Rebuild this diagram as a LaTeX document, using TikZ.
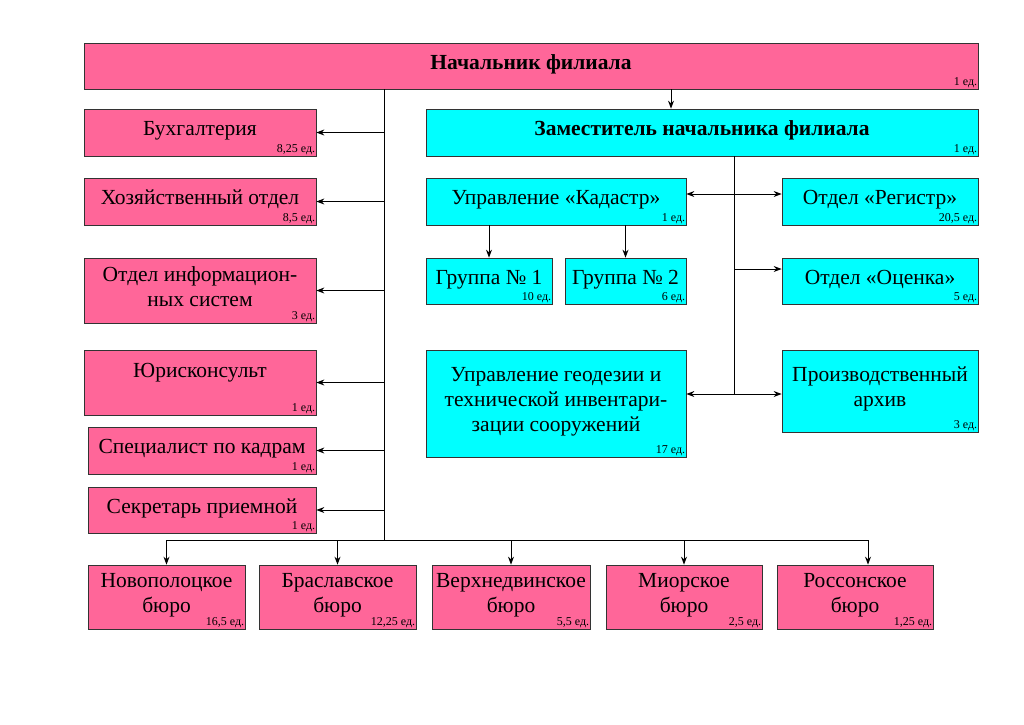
\documentclass[tikz,border=0pt]{standalone}
\usepackage{fontspec}
\setmainfont{Liberation Serif}
\usetikzlibrary{arrows.meta}
\definecolor{fillrose}{RGB}{255,102,153}
\definecolor{fillcyan}{RGB}{0,255,255}

\begin{document}
\begin{tikzpicture}[%
            x=1pt, y=-1pt,
            box/.style={draw=black!80, line width=0.7pt, align=center, inner sep=2pt,
                font=\fontsize{21.5}{25}\selectfont, text depth=8pt},
            pinkbox/.style={box, fill=fillrose},
            cyanbox/.style={box, fill=fillcyan},
            size/.style 2 args={minimum width=#1, minimum height=#2},
            units/.style={label={[anchor=south east, inner sep=1pt,
                font=\fontsize{12}{13}\selectfont]south east:{#1}}},
            link/.style={line width=1pt},
            arr/.style={link, -{Stealth[length=8pt,width=6pt]}},
            dblarr/.style={link, {Stealth[length=8pt,width=6pt]}-{Stealth[length=8pt,width=6pt]}}
    ]
        \useasboundingbox (0,0) rectangle (1024,724);

        % head and deputy
        \node [pinkbox, size={894}{46}, units={1 ед.}, font=\bfseries\fontsize{21.5}{25}\selectfont]
            (chief) at (531,66) {Начальник филиала};
        \node [cyanbox, size={552}{47}, units={1 ед.}, font=\bfseries\fontsize{21.5}{25}\selectfont]
            (deputy) at (702,132.5) {Заместитель начальника филиала};

        % left column
        \node [pinkbox, size={232}{47}, units={8,25 ед.}] (buh) at (200,132.5) {Бухгалтерия};
        \node [pinkbox, size={232}{47}, units={8,5 ед.}] (hoz) at (200,201.5) {Хозяйственный отдел};
        \node [pinkbox, size={232}{65}, units={3 ед.}] (infsys) at (200,290.5)
            {Отдел информацион-\\ных систем};
        \node [pinkbox, size={232}{65}, units={1 ед.}, text depth=24pt] (jur) at (200,382.5) {Юрисконсульт};
        \node [pinkbox, size={228}{47}, units={1 ед.}] (kadry) at (202,450.5) {Специалист по кадрам};
        \node [pinkbox, size={228}{46}, units={1 ед.}] (secr) at (202,510) {Секретарь приемной};

        % deputy's units
        \node [cyanbox, size={260}{47}, units={1 ед.}] (kadastr) at (556,201.5) {Управление «Кадастр»};
        \node [cyanbox, size={126}{46}, units={10 ед.}] (gr1) at (489,281) {Группа №~1};
        \node [cyanbox, size={121}{46}, units={6 ед.}] (gr2) at (625.5,281) {Группа №~2};
        \node [cyanbox, size={260}{107}, units={17 ед.}] (geod) at (556,403.5)
            {Управление геодезии и\\технической инвентари-\\зации сооружений};
        \node [cyanbox, size={196}{47}, units={20,5 ед.}] (registr) at (880,201.5) {Отдел «Регистр»};
        \node [cyanbox, size={196}{46}, units={5 ед.}] (ocenka) at (880,281) {Отдел «Оценка»};
        \node [cyanbox, size={196}{82}, units={3 ед.}] (archive) at (880,391)
            {Производственный\\архив};

        % bureaus
        \node [pinkbox, size={157}{64}, units={16,5 ед.}] (novo) at (166.5,597) {Новополоцкое\\бюро};
        \node [pinkbox, size={157}{64}, units={12,25 ед.}] (bras) at (337.5,597) {Браславское\\бюро};
        \node [pinkbox, size={158}{64}, units={5,5 ед.}] (verh) at (511,597) {Верхнедвинское\\бюро};
        \node [pinkbox, size={156}{64}, units={2,5 ед.}] (mior) at (684,597) {Миорское\\бюро};
        \node [pinkbox, size={156}{64}, units={1,25 ед.}] (ross) at (855,597) {Россонское\\бюро};

        % connectors
        \coordinate (bus) at (384,540);
        \coordinate (spine) at (734,394);
        \draw [link] (chief.south -| bus) -- (bus);
        \foreach \n in {buh,hoz,infsys,jur,kadry,secr}
            \draw [arr] (\n.east -| bus) -- (\n.east);
        \draw [link] (novo.north |- bus) -- ([xshift=13]ross.north |- bus);
        \foreach \n in {novo,bras,verh,mior}
            \draw [arr] (\n.north |- bus) -- (\n.north);
        \draw [arr] ([xshift=13]ross.north |- bus) -- ([xshift=13]ross.north);

        \draw [arr] ([xshift=-31]deputy.north |- chief.south) -- ([xshift=-31]deputy.north);
        \draw [link] (deputy.south -| spine) -- (spine);
        \draw [dblarr] ([yshift=7.5]kadastr.east) -- ([yshift=7.5]registr.west);
        \draw [arr] ([yshift=12]ocenka.west -| spine) -- ([yshift=12]ocenka.west);
        \draw [dblarr] (geod.east |- spine) -- (archive.west |- spine);
        \draw [arr] (gr1.north |- kadastr.south) -- (gr1.north);
        \draw [arr] (gr2.north |- kadastr.south) -- (gr2.north);
    \end{tikzpicture}
\end{document}
